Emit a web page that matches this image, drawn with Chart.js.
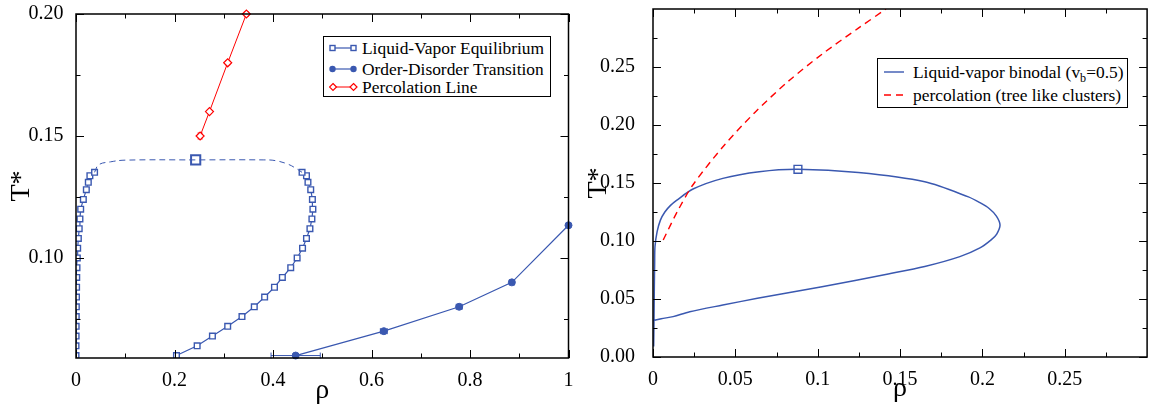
<!DOCTYPE html>
<html>
<head>
<meta charset="utf-8">
<script src="https://cdn.jsdelivr.net/npm/chart.js@4.4.0/dist/chart.umd.min.js"></script>
<style>
  html, body { margin: 0; padding: 0; background: #fff; }
  body { width: 1154px; height: 413px; position: relative; overflow: hidden; font-family: "Liberation Serif", "Times New Roman", serif; }
  .panel { position: absolute; top: 0; width: 577px; height: 413px; }
  #left { left: 0; }
  #right { left: 577px; }
  .legend { position: absolute; box-sizing: border-box; border: 1.5px solid #000; background: #fff; color: #000; font-size: 17.4px; }
  .legend .row { position: absolute; left: 0; height: 20px; line-height: 20px; white-space: nowrap; }
  .legend svg { position: absolute; top: 0; }
  .legend span { position: absolute; top: 0; }
  sub { font-size: 70%; vertical-align: -4px; line-height: 0; }
</style>
</head>
<body>
<div class="panel" id="left"><canvas id="leftChart" width="577" height="413"></canvas></div>
<div class="panel" id="right"><canvas id="rightChart" width="577" height="413"></canvas></div>

<div class="legend" style="left:323px;top:36px;width:228px;height:61px;">
  <div class="row" style="top:1px;">
    <svg width="30" height="20" style="left:5px"><line x1="3" y1="10" x2="25" y2="10" stroke="#3a58b0" stroke-width="1.2"/><rect x="1" y="7.5" width="5" height="5" fill="#fff" stroke="#3a58b0" stroke-width="1.4"/><rect x="22" y="7.5" width="5" height="5" fill="#fff" stroke="#3a58b0" stroke-width="1.4"/></svg>
    <span style="left:38px">Liquid-Vapor Equilibrium</span>
  </div>
  <div class="row" style="top:22px;">
    <svg width="30" height="20" style="left:5px"><line x1="3" y1="10" x2="25" y2="10" stroke="#3a58b0" stroke-width="1.2"/><circle cx="3.5" cy="10" r="3.2" fill="#3a58b0"/><circle cx="24.5" cy="10" r="3.2" fill="#3a58b0"/></svg>
    <span style="left:38px">Order-Disorder Transition</span>
  </div>
  <div class="row" style="top:40px;">
    <svg width="30" height="20" style="left:5px"><line x1="3" y1="10" x2="25" y2="10" stroke="#ff0000" stroke-width="1"/><path d="M4 6.5 L7.5 10 L4 13.5 L0.5 10 Z" fill="#fff" stroke="#ff0000" stroke-width="1.2"/><path d="M24.5 6.5 L28 10 L24.5 13.5 L21 10 Z" fill="#fff" stroke="#ff0000" stroke-width="1.2"/></svg>
    <span style="left:38px">Percolation Line</span>
  </div>
</div>

<div class="legend" style="left:877px;top:58px;width:251px;height:50px;">
  <div class="row" style="top:3px;">
    <svg width="24" height="20" style="left:5px"><line x1="1" y1="10" x2="21" y2="10" stroke="#3a58b0" stroke-width="1.4"/></svg>
    <span style="left:35px">Liquid-vapor binodal (v<sub>b</sub>=0.5)</span>
  </div>
  <div class="row" style="top:26px;">
    <svg width="24" height="20" style="left:5px"><line x1="1" y1="10" x2="21" y2="10" stroke="#ff0000" stroke-width="1.4" stroke-dasharray="7 5"/></svg>
    <span style="left:35px">percolation (tree like clusters)</span>
  </div>
</div>

<script>
const BLUE = "#3a58b0";
const RED = "#ff0000";
const SERIF = "'Liberation Serif', 'Times New Roman', serif";

// ---- left panel data ----
const lvT = [0.060, 0.064, 0.068, 0.072, 0.076, 0.080, 0.084, 0.088, 0.092, 0.096, 0.100,
             0.104, 0.108, 0.112, 0.116, 0.120, 0.124, 0.128, 0.131, 0.1337, 0.1351];
const lvVaporRho = [0.000, 0.000, 0.0002, 0.0003, 0.0005, 0.0007, 0.001, 0.0012, 0.0015, 0.002, 0.0027,
                    0.0034, 0.0048, 0.0065, 0.008, 0.0095, 0.0149, 0.021, 0.025, 0.0282, 0.0377];
const lvLiquidRho = [0.204, 0.246, 0.277, 0.308, 0.337, 0.362, 0.383, 0.403, 0.419, 0.436, 0.449,
                     0.460, 0.468, 0.475, 0.479, 0.481, 0.480, 0.4766, 0.471, 0.468, 0.459];
const lvTopRho = [0.0377, 0.046, 0.07, 0.10, 0.243, 0.38, 0.405, 0.431, 0.4476, 0.459];
const lvTopT   = [0.1351, 0.1382, 0.1394, 0.1401, 0.1402, 0.1402, 0.1399, 0.1384, 0.1366, 0.1351];
const critRho = [0.243];
const critT = [0.1402];

const odRho = [0.446, 0.625, 0.778, 0.885, 1.0];
const odT = [0.060, 0.070, 0.080, 0.090, 0.1134];
const odRhoErr = [0.05, 0.007, 0.006, 0.005, 0];

const percRho = [0.252, 0.271, 0.308, 0.346];
const percT = [0.150, 0.160, 0.180, 0.200];
const percTErr = [0.0012, 0.0008, 0.0008, 0.0008];

const leftXTicks = [0, 0.2, 0.4, 0.6, 0.8, 1];
const leftXLabels = ["0", "0.2", "0.4", "0.6", "0.8", "1"];
const leftXMinor = [0.1, 0.3, 0.5, 0.7, 0.9];
const leftYTicks = [0.10, 0.15, 0.20];
const leftYLabels = ["0.10", "0.15", "0.20"];
const leftYMinor = [0.075, 0.125, 0.175];

// ---- right panel data ----
const binRho = [0.0004, 0.0006, 0.0008, 0.001, 0.0012, 0.0025, 0.0045, 0.0072, 0.0105, 0.0143, 0.0243, 0.0424, 0.0645,
                0.088, 0.1247, 0.165, 0.1915, 0.1985, 0.2041, 0.2085, 0.2107, 0.2087, 0.2053, 0.1985, 0.1863,
                0.165, 0.1428, 0.1026, 0.0634, 0.0424, 0.0223, 0.0122, 0.005, 0.0];
const binT = [0.009, 0.03, 0.06, 0.08, 0.095, 0.108, 0.118, 0.125, 0.1305, 0.135, 0.1448, 0.154, 0.1597,
              0.1618, 0.159, 0.151, 0.138, 0.133, 0.128, 0.1215, 0.1138, 0.106, 0.101, 0.094, 0.0865,
              0.078, 0.0716, 0.0606, 0.0506, 0.0448, 0.039, 0.0348, 0.0330, 0.0313];
const binCritRho = [0.088];
const binCritT = [0.1618];

const treeRho = [0.0062, 0.015, 0.0243, 0.0434, 0.062, 0.082, 0.1026, 0.1247, 0.1415];
const treeT = [0.1009, 0.126, 0.1485, 0.1828, 0.211, 0.2375, 0.261, 0.2835, 0.300];

const rightXTicks = [0, 0.05, 0.1, 0.15, 0.2, 0.25];
const rightXLabels = ["0", "0.05", "0.1", "0.15", "0.2", "0.25"];
const rightXMinor = [0.025, 0.075, 0.125, 0.175, 0.225, 0.275];
const rightYTicks = [0, 0.05, 0.10, 0.15, 0.20, 0.25];
const rightYLabels = ["0.00", "0.05", "0.10", "0.15", "0.20", "0.25"];
const rightYMinor = [0.025, 0.075, 0.125, 0.175, 0.225, 0.275];

const pts = (xs, ys) => xs.map((v, i) => ({ x: v, y: ys[i] }));

Chart.defaults.font.family = SERIF;
Chart.defaults.color = "#000";
Chart.defaults.animation = false;

// box around the plot + inward ticks on all four sides
const frameTicks = {
  id: "frameTicks",
  afterDatasetsDraw(chart, args, opts) {
    const { ctx, chartArea: a, scales: { x, y } } = chart;
    ctx.save();
    ctx.strokeStyle = "#000";
    ctx.lineWidth = 1;
    const xt = (vals, len) => vals.forEach(v => {
      const px = Math.round(x.getPixelForValue(v)) + 0.5;
      ctx.beginPath();
      ctx.moveTo(px, a.bottom); ctx.lineTo(px, a.bottom - len);
      ctx.moveTo(px, a.top); ctx.lineTo(px, a.top + len);
      ctx.stroke();
    });
    const yt = (vals, len) => vals.forEach(v => {
      const py = Math.round(y.getPixelForValue(v)) + 0.5;
      ctx.beginPath();
      ctx.moveTo(a.left, py); ctx.lineTo(a.left + len, py);
      ctx.moveTo(a.right, py); ctx.lineTo(a.right - len, py);
      ctx.stroke();
    });
    xt(opts.xMajor, 8); xt(opts.xMinor, 4.5);
    yt(opts.yMajor, 8); yt(opts.yMinor, 4.5);
    ctx.lineWidth = 1.5;
    ctx.strokeRect(a.left, a.top, a.right - a.left, a.bottom - a.top);
    ctx.restore();
  }
};

// error bars from xErr / yErr arrays on a dataset
const errorBars = {
  id: "errorBars",
  beforeDatasetsDraw(chart) {
    const { ctx, scales: { x, y } } = chart;
    chart.data.datasets.forEach(ds => {
      if (!ds.xErr && !ds.yErr) return;
      ctx.save();
      ctx.strokeStyle = ds.borderColor;
      ctx.lineWidth = 1;
      ds.data.forEach((p, i) => {
        const px = x.getPixelForValue(p.x), py = y.getPixelForValue(p.y);
        if (ds.xErr && ds.xErr[i]) {
          const x0 = x.getPixelForValue(p.x - ds.xErr[i]), x1 = x.getPixelForValue(p.x + ds.xErr[i]);
          ctx.beginPath();
          ctx.moveTo(x0, py); ctx.lineTo(x1, py);
          ctx.moveTo(x0, py - 3); ctx.lineTo(x0, py + 3);
          ctx.moveTo(x1, py - 3); ctx.lineTo(x1, py + 3);
          ctx.stroke();
        }
        if (ds.yErr && ds.yErr[i]) {
          const y0 = y.getPixelForValue(p.y - ds.yErr[i]), y1 = y.getPixelForValue(p.y + ds.yErr[i]);
          ctx.beginPath();
          ctx.moveTo(px, y0); ctx.lineTo(px, y1);
          ctx.moveTo(px - 2.5, y0); ctx.lineTo(px + 2.5, y0);
          ctx.moveTo(px - 2.5, y1); ctx.lineTo(px + 2.5, y1);
          ctx.stroke();
        }
      });
      ctx.restore();
    });
  }
};

function axes(o) {
  return {
    x: {
      type: "linear", min: o.xMin, max: o.xMax,
      grid: { display: false }, border: { display: false },
      afterBuildTicks: s => { s.ticks = o.xTicks.map(v => ({ value: v })); },
      afterFit: s => { s.height = o.xHeight; s.paddingLeft = 0; s.paddingRight = 0; },
      ticks: { font: { family: SERIF, size: 20 }, padding: 3, maxRotation: 0, autoSkip: false, callback: (v, i) => o.xLabels[i] },
      title: { display: true, text: "ρ", font: { family: SERIF, size: 28 }, padding: { top: 0, bottom: o.xTitlePad } }
    },
    y: {
      type: "linear", min: o.yMin, max: o.yMax,
      grid: { display: false }, border: { display: false },
      afterBuildTicks: s => { s.ticks = o.yTicks.map(v => ({ value: v })); },
      afterFit: s => { s.width = 76; s.paddingTop = 0; s.paddingBottom = 0; },
      ticks: { font: { family: SERIF, size: 20 }, padding: o.yPad, autoSkip: false, callback: (v, i) => o.yLabels[i] },
      title: { display: true, text: "T*", font: { family: SERIF, size: 28 }, padding: { top: 5, bottom: 0 } }
    }
  };
}

new Chart(document.getElementById("leftChart"), {
  type: "scatter",
  data: {
    datasets: [
      { data: pts(lvTopRho, lvTopT), showLine: true, borderColor: BLUE, borderWidth: 1, borderDash: [6, 4], tension: 0.4, pointRadius: 0 },
      { data: pts(lvVaporRho, lvT), showLine: true, borderColor: BLUE, borderWidth: 1.2,
        pointStyle: "rect", pointRadius: 4, pointBackgroundColor: "#fff", pointBorderColor: BLUE, pointBorderWidth: 1.4 },
      { data: pts(lvLiquidRho, lvT), showLine: true, borderColor: BLUE, borderWidth: 1.2,
        pointStyle: "rect", pointRadius: 4, pointBackgroundColor: "#fff", pointBorderColor: BLUE, pointBorderWidth: 1.4 },
      { data: pts(critRho, critT), showLine: false, borderColor: BLUE,
        pointStyle: "rect", pointRadius: 6.5, pointBackgroundColor: "#fff", pointBorderColor: BLUE, pointBorderWidth: 2 },
      { data: pts(odRho, odT), showLine: true, borderColor: BLUE, borderWidth: 1.2, xErr: odRhoErr, clip: 8,
        pointStyle: "circle", pointRadius: 3.5, pointBackgroundColor: BLUE, pointBorderColor: BLUE, pointBorderWidth: 1 },
      { data: pts(percRho, percT), showLine: true, borderColor: RED, borderWidth: 1, yErr: percTErr, clip: 8,
        pointStyle: "rectRot", pointRadius: 4, pointBackgroundColor: "#fff", pointBorderColor: RED, pointBorderWidth: 1.2 }
    ]
  },
  options: {
    responsive: false,
    layout: { padding: { top: 14, right: 5, left: 0, bottom: 0 } },
    plugins: {
      legend: { display: false }, tooltip: { enabled: false },
      frameTicks: { xMajor: leftXTicks, xMinor: leftXMinor, yMajor: leftYTicks, yMinor: leftYMinor }
    },
    scales: axes({ xMin: 0, xMax: 1, yMin: 0.059, yMax: 0.2, xTicks: leftXTicks, xLabels: leftXLabels,
                   yTicks: leftYTicks, yLabels: leftYLabels, xHeight: 55, xTitlePad: 6, yPad: 4.5 })
  },
  plugins: [frameTicks, errorBars]
});

new Chart(document.getElementById("rightChart"), {
  type: "scatter",
  data: {
    datasets: [
      { data: pts(treeRho, treeT), showLine: true, borderColor: RED, borderWidth: 1.4, borderDash: [7, 5], tension: 0.3, pointRadius: 0 },
      { data: pts(binRho, binT), showLine: true, borderColor: BLUE, borderWidth: 1.5, tension: 0.3, pointRadius: 0 },
      { data: pts(binCritRho, binCritT), showLine: false, borderColor: BLUE,
        pointStyle: "rect", pointRadius: 5.5, pointBackgroundColor: "#fff", pointBorderColor: BLUE, pointBorderWidth: 1.4 }
    ]
  },
  options: {
    responsive: false,
    layout: { padding: { top: 9, right: 3, left: 0, bottom: 0 } },
    plugins: {
      legend: { display: false }, tooltip: { enabled: false },
      frameTicks: { xMajor: rightXTicks, xMinor: rightXMinor, yMajor: rightYTicks, yMinor: rightYMinor }
    },
    scales: axes({ xMin: 0, xMax: 0.3, yMin: 0, yMax: 0.3, xTicks: rightXTicks, xLabels: rightXLabels,
                   yTicks: rightYTicks, yLabels: rightYLabels, xHeight: 56, xTitlePad: 8, yPad: 10 })
  },
  plugins: [frameTicks]
});
</script>
</body>
</html>
